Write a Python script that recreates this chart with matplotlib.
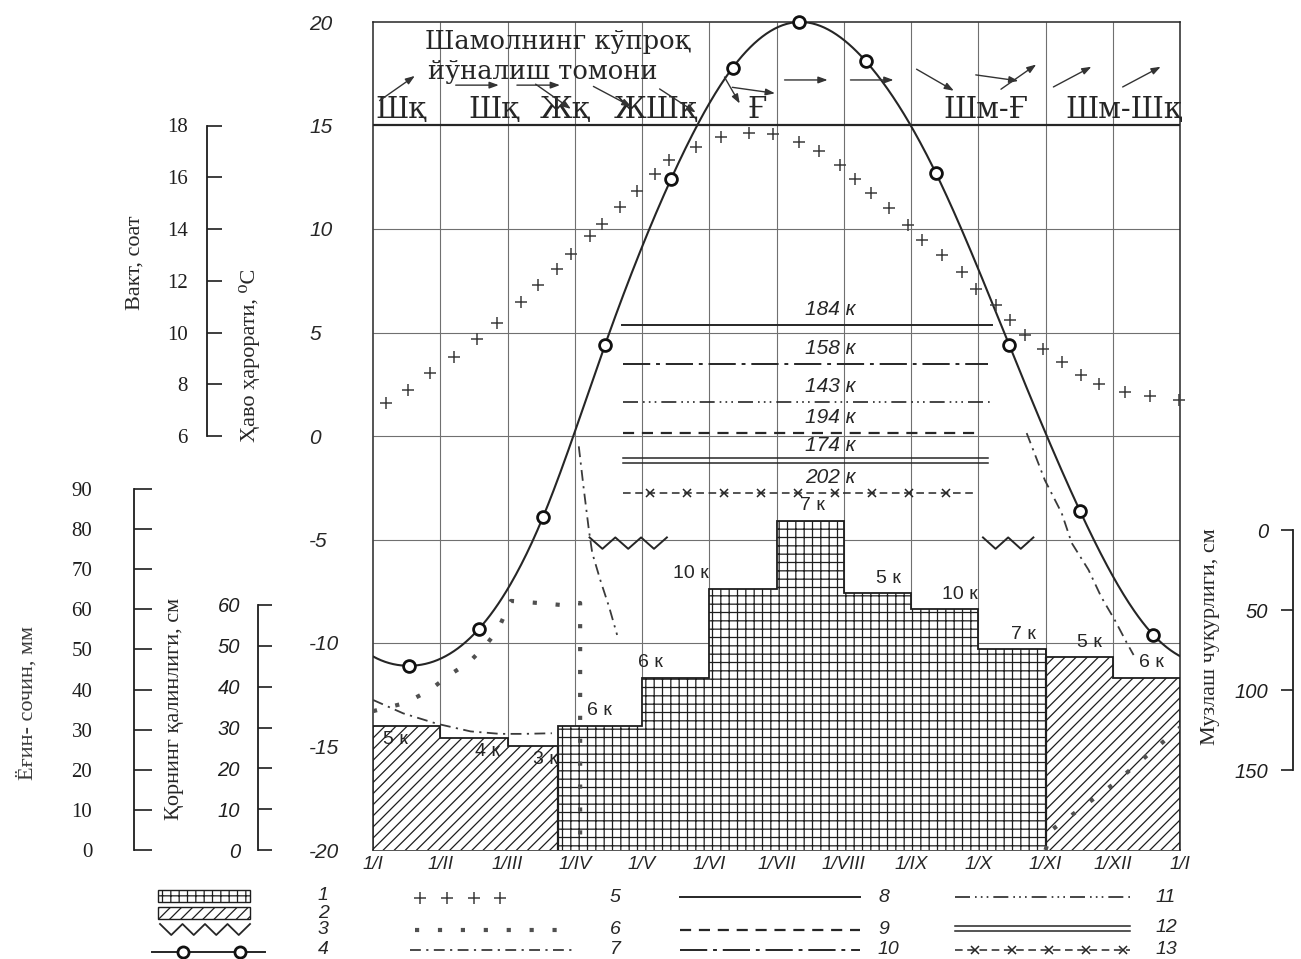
import numpy as np
import matplotlib
matplotlib.use("Agg")
import matplotlib.pyplot as plt
from matplotlib.patches import Rectangle
from matplotlib.transforms import offset_copy

SERIF = ["Liberation Serif", "DejaVu Serif"]
WIDE_SERIF = ["DejaVu Serif"]
SANS = ["Liberation Sans", "DejaVu Sans"]
plt.rcParams["font.family"] = SANS
plt.rcParams["hatch.linewidth"] = 0.9
plt.rcParams["hatch.color"] = "#222222"

INK = "#262626"
GRID = "#707070"

# ---------------------------------------------------------------- data
month_labels = ["1/I", "1/II", "1/III", "1/IV", "1/V", "1/VI", "1/VII",
                "1/VIII", "1/IX", "1/X", "1/XI", "1/XII", "1/I"]

# mean monthly air temperature, °C (position in months from 1 January)
temp_pos = [0.53, 1.58, 2.53, 3.45, 4.43, 5.35, 6.33, 7.33, 8.37, 9.46, 10.51, 11.60]
temp_val = [-11.1, -9.3, -3.9, 4.4, 12.4, 17.8, 20.0, 18.1, 12.7, 4.4, -3.6, -9.6]

# day length, hours
daylen_pos = [0.19, 0.52, 0.85, 1.20, 1.55, 1.85, 2.20, 2.45, 2.73, 2.94,
              3.22, 3.41, 3.68, 3.93, 4.19, 4.40, 4.81, 5.17, 5.59, 5.95,
              6.33, 6.63, 6.95, 7.17, 7.41, 7.68, 7.95, 8.16, 8.46, 8.76,
              8.97, 9.26, 9.47, 9.69, 9.97, 10.25, 10.53, 10.79, 11.18, 11.56, 11.99]
daylen_hrs = [7.28, 7.76, 8.45, 9.04, 9.74, 10.38, 11.19, 11.84, 12.45, 13.03,
              13.72, 14.21, 14.84, 15.46, 16.11, 16.65, 17.17, 17.56, 17.70, 17.66,
              17.37, 17.02, 16.47, 15.95, 15.41, 14.82, 14.17, 13.58, 13.00, 12.33,
              11.68, 11.06, 10.49, 9.90, 9.38, 8.86, 8.37, 8.02, 7.70, 7.53, 7.41]

# precipitation, mm, per period (boundaries in months) and number of days
precip_edges = [0, 1, 2, 2.75, 4, 5, 6, 7, 8, 9, 10, 11, 12]
precip_mm = [31, 28, 26, 31, 43, 65, 82, 64, 60, 50, 48, 43]
precip_kind = ["snow", "snow", "snow", "rain", "rain", "rain",
               "rain", "rain", "rain", "rain", "snow", "snow"]
precip_days = [5, 4, 3, 6, 6, 10, 7, 5, 10, 7, 5, 6]

# snow cover thickness, cm (series 6)
snow_spring_pos = [0.0, 0.48, 0.83, 1.15, 1.43, 1.67, 1.86, 2.05, 2.45, 2.80, 3.08, 3.08]
snow_spring_cm = [34, 36, 39, 43, 46, 50, 54, 61, 60.5, 60, 60.5, 0]
snow_autumn_pos = [10.0, 10.1, 11.0, 12.0]
snow_autumn_cm = [0, 5, 16, 30]

# series 7 (dash-dot), on the temperature scale
s7_winter_pos = [0.0, 0.45, 0.95, 1.45, 1.89, 2.24, 2.66]
s7_winter_val = [-12.75, -13.4, -13.9, -14.27, -14.39, -14.39, -14.36]
s7_spring_pos = [3.06, 3.13, 3.21, 3.26, 3.38, 3.51, 3.63]
s7_spring_val = [-0.5, -2.45, -4.54, -5.65, -6.96, -8.25, -9.61]
s7_autumn_pos = [9.72, 9.99, 10.24, 10.39, 10.64, 10.83, 11.03, 11.21, 11.31]
s7_autumn_val = [0.14, -2.13, -3.72, -5.17, -6.47, -7.78, -8.89, -10.0, -10.58]

# frost marks (series 3): start and end, months
frost_spring = (3.22, 4.37)
frost_autumn = (9.07, 9.82)

# durations of periods, days (series 8..13)
period_days = [184, 158, 143, 194, 174, 202]
period_start = [3.70, 3.72, 3.72, 3.72, 3.72, 3.72]
period_end = [9.20, 9.15, 9.20, 8.97, 9.15, 8.93]

# prevailing wind
wind_labels = ["Шқ", "Шқ", "Жқ", "ЖШқ", "Ғ", "Шм-Ғ", "Шм-Шқ"]
wind_arrow_pos = [0.36, 1.55, 2.46, 2.68, 3.56, 4.53, 5.34, 5.66,
                  6.44, 7.42, 8.36, 9.28, 9.60, 10.40, 11.43]
wind_arrow_deg = [35, 0, 0, -35, -28, -33, -60, -8, 0, 0, -30, -8, 35, 28, 28]

# ---------------------------------------------------------------- helpers
def natural_spline(xk, yk, xs):
    xk = np.asarray(xk, float)
    yk = np.asarray(yk, float)
    n = len(xk)
    h = np.diff(xk)
    A = np.zeros((n, n))
    r = np.zeros(n)
    A[0, 0] = A[-1, -1] = 1.0
    for i in range(1, n - 1):
        A[i, i - 1] = h[i - 1]
        A[i, i] = 2 * (h[i - 1] + h[i])
        A[i, i + 1] = h[i]
        r[i] = 3 * ((yk[i + 1] - yk[i]) / h[i] - (yk[i] - yk[i - 1]) / h[i - 1])
    c = np.linalg.solve(A, r)
    b = (yk[1:] - yk[:-1]) / h - h * (2 * c[:-1] + c[1:]) / 3
    d = (c[1:] - c[:-1]) / (3 * h)
    i = np.clip(np.searchsorted(xk, xs) - 1, 0, n - 2)
    t = xs - xk[i]
    return yk[i] + b[i] * t + c[i] * t ** 2 + d[i] * t ** 3


def zigzag(x0, x1, ytop, ybot, teeth):
    k = 2 * teeth + 1
    xs = np.linspace(x0, x1, k)
    ys = np.where(np.arange(k) % 2 == 0, ytop, ybot)
    return xs, ys


LS_DASHDOT = (0, (6, 3, 1.2, 3))
LS_DOTSQ = (0, (1, 4.5))
LS_9 = (0, (5, 3.5))
LS_10 = (0, (14, 3, 2, 3))
LS_11 = (0, (9, 3, 1, 2.5, 1, 2.5, 1, 3))
LS_13 = (0, (5, 3))

# ---------------------------------------------------------------- figure
W, H = 1301, 959
fig = plt.figure(figsize=(W / 100, H / 100), dpi=100)
fig.patch.set_facecolor("white")

AX_L, AX_R = 373 / W, 1180 / W
AX_B, AX_T = 1 - 850 / H, 1 - 22 / H
ax = fig.add_axes([AX_L, AX_B, AX_R - AX_L, AX_T - AX_B])
ax.set_xlim(0, 12)
ax.set_ylim(-20, 20)

for s in ax.spines.values():
    s.set_color(INK)
    s.set_linewidth(1.1)

ax.vlines(np.arange(1, 12), -20, 20, color=GRID, lw=0.8, zorder=1)
ax.hlines([-10, -5, 0, 5, 10], 0, 12, color=GRID, lw=0.8, zorder=1)
ax.hlines(15, 0, 12, color=INK, lw=1.6, zorder=1)

temp_ticks = list(range(-20, 21, 5))
ax.set_yticks(temp_ticks)
ax.set_yticklabels([str(v) for v in temp_ticks], fontsize=15, style="italic",
                   ha="left", color=INK)
ax.tick_params(axis="y", length=0, pad=46)
ax.set_xticks(np.arange(13))
ax.set_xticklabels(month_labels, fontsize=13.5, style="italic", color=INK)
ax.tick_params(axis="x", length=0, pad=4)

# precipitation scale (mm): 0 mm at the bottom, 90 mm at y=489 px
P_TOP = 90 * 828 / 361
# snow thickness scale (cm): 60 cm at y=605 px
S_TOP = 60 * 828 / 245
# day length scale (hours): 6 h at 0 °C, 18 h at 15 °C
H_LIM = (-10, 22)
# frost depth scale (cm, downward): 0 at y=530 px, 150 at y=770 px
F_LIM = ((850 - 530) / 1.6, -(530 - 22) / 1.6)

ax_p = ax.twinx()
ax_p.set_ylim(0, P_TOP)
ax_p.axis("off")
ax_t = ax.twinx()
ax_t.set_ylim(-20, 20)
ax_t.axis("off")
ax_s = ax.twinx()
ax_s.set_ylim(0, S_TOP)
ax_s.axis("off")
ax_h = ax.twinx()
ax_h.set_ylim(*H_LIM)
ax_h.axis("off")
for a in (ax_p, ax_t, ax_s, ax_h):
    a.set_xlim(0, 12)

# ---- precipitation bars (1 rain, 2 snow)
edges = np.array(precip_edges, float)
lefts, widths = edges[:-1], np.diff(edges)
for x0, w, v, kind in zip(lefts, widths, precip_mm, precip_kind):
    ax_p.bar(x0, v, width=w, align="edge", color="white", edgecolor="#1e1e1e",
             hatch="++" if kind == "rain" else "///", linewidth=0.0, zorder=2)
ax_p.stairs(precip_mm, edges, baseline=0, color="#1e1e1e", lw=1.3, zorder=3)
for i in range(1, len(precip_kind)):
    if precip_kind[i] != precip_kind[i - 1]:
        ax_p.vlines(edges[i], 0, min(precip_mm[i], precip_mm[i - 1]),
                    color="#1e1e1e", lw=1.6, zorder=3)

day_label_x = [0.33, 1.70, 2.56, 3.36, 4.13, 4.72, 6.54, 7.67, 8.72, 9.67, 10.66, 11.58]
for i, (lx, v, d) in enumerate(zip(day_label_x, precip_mm, precip_days)):
    inside = i < 3
    ax_p.annotate(f"{d} к", (lx, v), xytext=(0, -10 if inside else 11),
                  textcoords="offset points", ha="center", va="center",
                  fontsize=14, color=INK, zorder=4)

# ---- air temperature (4)
kx = [p - 12 for p in temp_pos[-3:]] + temp_pos + [p + 12 for p in temp_pos[:3]]
ky = temp_val[-3:] + temp_val + temp_val[:3]
xs = np.linspace(0, 12, 600)
ax_t.plot(xs, natural_spline(kx, ky, xs), color=INK, lw=1.5, zorder=5)
ax_t.plot(temp_pos, temp_val, "o", ms=8.5, mfc="white", mec="#111111", mew=2.0,
          ls="none", zorder=6, clip_on=False)

# ---- series 7
for px_, pv in ((s7_winter_pos, s7_winter_val), (s7_spring_pos, s7_spring_val),
                (s7_autumn_pos, s7_autumn_val)):
    ax_t.plot(px_, pv, color="#3a3a3a", lw=1.3, ls=LS_DASHDOT, zorder=5)

# ---- frost marks (3)
for x0, x1 in (frost_spring, frost_autumn):
    zx, zy = zigzag(x0, x1, -4.9, -5.45, int(round((x1 - x0) / 0.37)))
    ax_t.plot(zx, zy, color=INK, lw=1.4, zorder=5)

# ---- periods (8..13)
period_level = [5.35, 3.5, 1.65, 0.15, -1.18, -2.75]
period_styles = ["8", "10", "11", "9", "12", "13"]


def period_line(a, x0, x1, y, kind, dy=0.13):
    if kind == "8":
        a.plot([x0, x1], [y, y], color=INK, lw=1.4, zorder=5)
    elif kind == "9":
        a.plot([x0, x1], [y, y], color=INK, lw=1.6, ls=LS_9, zorder=5)
    elif kind == "10":
        a.plot([x0, x1], [y, y], color=INK, lw=1.4, ls=LS_10, zorder=5)
    elif kind == "11":
        a.plot([x0, x1], [y, y], color=INK, lw=1.2, ls=LS_11, zorder=5)
    elif kind == "12":
        a.plot([x0, x1], [y + dy, y + dy], color=INK, lw=1.1, zorder=5)
        a.plot([x0, x1], [y - dy, y - dy], color=INK, lw=1.1, zorder=5)
    elif kind == "13":
        a.plot([x0, x1], [y, y], color=INK, lw=1.1, ls=LS_13, zorder=5)
        mx = np.arange(x0 + 0.4, x1 - 0.2, 0.55)
        a.plot(mx, np.full_like(mx, y), "x", color=INK, ms=6, mew=1.1, zorder=5)


for d, x0, x1, y, kind in zip(period_days, period_start, period_end,
                              period_level, period_styles):
    period_line(ax_t, x0, x1, y, kind)
    ax_t.annotate(f"{d} к", (6.8, y), xytext=(0, 11), textcoords="offset points",
                  ha="center", va="center", fontsize=15, style="italic",
                  color=INK, zorder=6)

# ---- snow cover thickness (6)
for px_, pv in ((snow_spring_pos, snow_spring_cm), (snow_autumn_pos, snow_autumn_cm)):
    ax_s.plot(px_, pv, color="#505050", lw=3.0, ls=LS_DOTSQ,
              dash_capstyle="butt", zorder=6)

# ---- day length (5)
ax_h.plot(daylen_pos, daylen_hrs, "+", color="#3c3c3c", ms=9, mew=1.1,
          ls="none", zorder=6, clip_on=False)

# ---- prevailing wind
wind_label_x = [0.42, 1.79, 2.86, 4.20, 5.72, 9.12, 11.16]
for x, t in zip(wind_label_x, wind_labels):
    ax_t.text(x, 15.75, t, ha="center", va="center", fontsize=21,
              family=WIDE_SERIF, color=INK, zorder=6)

wind_arrow_y = [16.8, 16.95, 16.95, 16.4, 16.4, 16.2, 16.7, 16.7,
                17.2, 17.2, 17.2, 17.3, 17.35, 17.35, 17.35]
for m, deg, yv in zip(wind_arrow_pos, wind_arrow_deg, wind_arrow_y):
    L = 22 if deg < -45 else 31
    dx = 0.5 * L * np.cos(np.radians(deg))
    dy = 0.5 * L * np.sin(np.radians(deg))
    tip = offset_copy(ax_t.transData, fig=fig, x=dx, y=dy, units="points")
    tail = offset_copy(ax_t.transData, fig=fig, x=-dx, y=-dy, units="points")
    ax_t.annotate("", xy=(m, yv), xycoords=tip, xytext=(m, yv), textcoords=tail,
                  arrowprops=dict(arrowstyle="-|>,head_length=0.55,head_width=0.2",
                                  color="#333333", lw=1.0, shrinkA=0, shrinkB=0),
                  zorder=6)

ax_t.text(0.78, 19.05, "Шамолнинг кўпроқ", ha="left", va="center", fontsize=18.5,
          family=WIDE_SERIF, color=INK, zorder=6)
ax_t.text(0.82, 17.63, "йўналиш томони", ha="left", va="center", fontsize=18.5,
          family=WIDE_SERIF, color=INK, zorder=6)


# ---------------------------------------------------------------- side scales
def scale_axis(xpix, ylim, ticks, labels, bounds, direction, length, pad,
               family, size, style):
    a = fig.add_axes([xpix / W, AX_B, 1e-4, AX_T - AX_B])
    a.set_ylim(*ylim)
    for s in ("top", "right", "bottom"):
        a.spines[s].set_visible(False)
    a.spines["left"].set_bounds(*bounds)
    a.spines["left"].set_linewidth(1.3)
    a.spines["left"].set_color("#1e1e1e")
    a.patch.set_visible(False)
    a.set_xticks([])
    a.set_yticks(ticks)
    a.set_yticklabels(labels, family=family, fontsize=size, style=style, color=INK)
    a.tick_params(axis="y", direction=direction, length=length, width=1.2,
                  pad=pad, colors="#1e1e1e")
    return a


hour_ticks = list(range(6, 19, 2))
scale_axis(207, H_LIM, hour_ticks, [str(v) for v in hour_ticks], (6, 18),
           "in", 11, 14, SERIF, 15, "normal")
precip_ticks = list(range(0, 91, 10))
scale_axis(134, (0, P_TOP), precip_ticks, [str(v) for v in precip_ticks], (0, 90),
           "in", 13, 30, SERIF, 15, "normal")
snow_ticks = list(range(0, 61, 10))
scale_axis(258, (0, S_TOP), snow_ticks, [str(v) for v in snow_ticks], (0, 60),
           "in", 10, 13, SANS, 14.5, "italic")
frost_ticks = [0, 50, 100, 150]
scale_axis(1293, F_LIM, frost_ticks, [str(v) for v in frost_ticks], (0, 150),
           "out", 9, 9, SANS, 14.5, "italic")

fig.text(135 / W, 1 - 263 / H, "Вакт, соат", rotation=90, ha="center",
         va="center", fontsize=16, family=SERIF, color=INK)
fig.text(250 / W, 1 - 355 / H, "Ҳаво ҳарорати, ⁰C", rotation=90, ha="center",
         va="center", fontsize=16, family=SERIF, color=INK)
fig.text(27 / W, 1 - 703 / H, "Ёғин- сочин, мм", rotation=90, ha="center",
         va="center", fontsize=16, family=SERIF, color="#3a3a3a")
fig.text(174 / W, 1 - 709 / H, "Қорнинг қалинлиги, см", rotation=90, ha="center",
         va="center", fontsize=16, family=SERIF, color=INK)
fig.text(1210 / W, 1 - 637 / H, "Музлаш чуқурлиги, см", rotation=90, ha="center",
         va="center", fontsize=16, family=SERIF, color=INK)

# ---------------------------------------------------------------- legend
lg = fig.add_axes([0, 0, 1, 1])
lg.set_xlim(0, W)
lg.set_ylim(H, 0)
lg.axis("off")
lg.patch.set_visible(False)

lg.add_patch(Rectangle((158, 890), 92, 12, facecolor="white", edgecolor="#1e1e1e",
                       hatch="++", lw=1.0))
lg.add_patch(Rectangle((158, 907), 92, 12, facecolor="white", edgecolor="#1e1e1e",
                       hatch="///", lw=1.0))
zx, zy = zigzag(160, 250, 924, 935, 4)
lg.plot(zx, zy, color=INK, lw=1.3)
lg.plot([152, 265], [952, 952], color=INK, lw=1.4)
lg.plot([183, 240], [952, 952], "o", ms=8, mfc="white", mec="#111111", mew=2.0)

lg.plot([420, 447, 474, 500], [898] * 4, "+", color="#3c3c3c", ms=9, mew=1.1)
lg.plot([415, 572], [930, 930], color="#505050", lw=3.0, ls=LS_DOTSQ,
        dash_capstyle="butt")
lg.plot([410, 572], [950, 950], color="#3a3a3a", lw=1.3, ls=LS_DASHDOT)

period_line(lg, 680, 860, 897, "8")
period_line(lg, 680, 860, 930, "9")
period_line(lg, 680, 860, 950, "10")
period_line(lg, 955, 1130, 897, "11")
period_line(lg, 955, 1130, 928.5, "12", dy=2.5)
lg.plot([955, 1130], [950, 950], color=INK, lw=1.1, ls=LS_13)
x_marks = np.arange(975, 1125, 37)
lg.plot(x_marks, [950] * len(x_marks), "x", color=INK, ms=6, mew=1.1)

legend_numbers = [("1", 318, 896), ("2", 318, 913), ("3", 318, 930), ("4", 318, 950),
                  ("5", 610, 898), ("6", 610, 930), ("7", 610, 950),
                  ("8", 878, 897), ("9", 878, 930), ("10", 878, 950),
                  ("11", 1155, 897), ("12", 1155, 928), ("13", 1155, 950)]
for t, x, y in legend_numbers:
    lg.text(x, y, t, ha="left", va="center", fontsize=14, style="italic", color=INK)

fig.savefig("out.png", dpi=100, facecolor="white")
